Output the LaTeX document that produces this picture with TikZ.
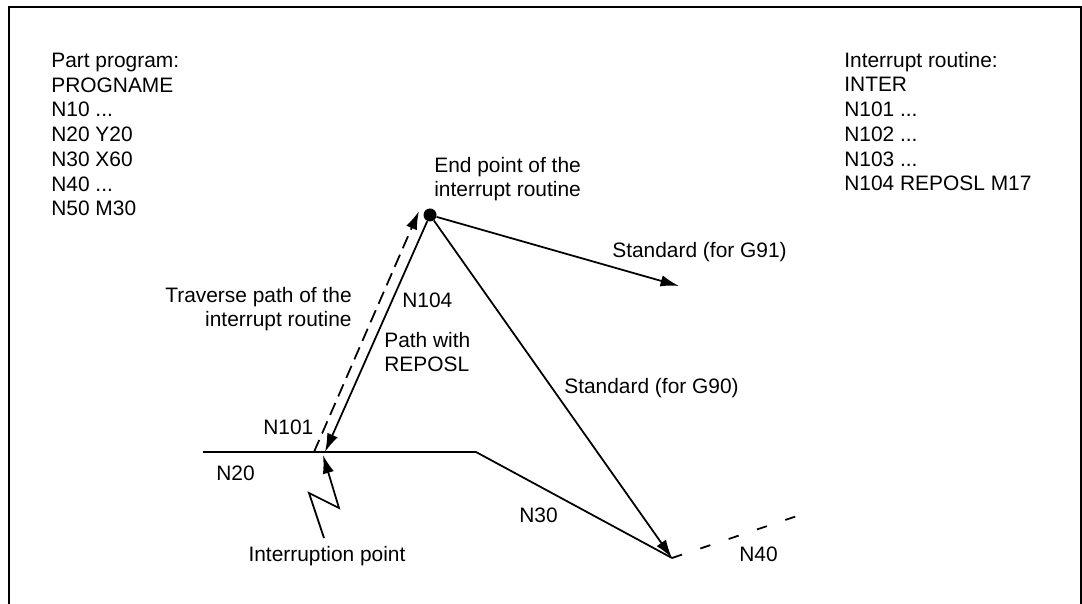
\documentclass[tikz,border=0pt]{standalone}
\usepackage{fontspec}
\setmainfont{Liberation Sans}
\usetikzlibrary{arrows.meta}

\begin{document}
\begin{tikzpicture}[x=0.02cm, y=-0.02cm,
  txt/.style={inner sep=0pt, font=\fontsize{11.9}{14.1}\selectfont},
  arr/.style={-{Latex[length=10.5pt,width=6.5pt]}, line width=1pt},
  seg/.style={line width=1pt},
  trav/.style={line width=1pt, dash pattern=on 7.5pt off 4pt},
  nxt/.style={line width=1pt, dash pattern=on 6pt off 11pt}
]
\useasboundingbox (0,0) rectangle (1082,604);
\draw[line width=1.1pt] (9,604) -- (9,7) -- (1081,7) -- (1081,604);

% program listings (base = last line)
\node[txt, anchor=base west, align=left] (prog) at (51,216)
  {Part program:\\PROGNAME\\N10 ...\\N20 Y20\\N30 X60\\N40 ...\\N50 M30};
\node[txt, anchor=base west, align=left] (inter) at (844,191)
  {Interrupt routine:\\INTER\\N101 ...\\N102 ...\\N103 ...\\N104 REPOSL M17};

% contour points
\node[circle, fill, inner sep=0pt, minimum size=0.26cm] (ep) at (430,215) {};
\coordinate (n20s) at (203,452);
\coordinate (n20e) at (476,452);
\coordinate (n30e) at (672,558);
\coordinate (ip)   at (325,452);
\coordinate (trs)  at (314,452);
\coordinate (tre)  at (419,211);
\coordinate (g91)  at (679,286);
\coordinate (n40e) at (803,514);
\coordinate (z0) at (324,538);
\coordinate (z1) at (309,493);
\coordinate (z2) at (339,508);
\coordinate (z3) at (323,455);

\draw[seg] (n20s) -- (n20e) -- (n30e);
\draw[nxt] (n30e) -- (n40e);
\draw[trav, -{Latex[length=10.5pt,width=6.5pt]}] (trs) -- (tre);
\draw[arr] (ep) -- (ip);
\draw[arr] (ep) -- (g91);
\draw[arr] (ep) -- (n30e);
\draw[arr] (z0) -- (z1) -- (z2) -- (z3);

% labels
\node[txt, anchor=base west, align=left] (eplbl) at (434,197)
  {End point of the\\interrupt routine};
\node[txt, anchor=base east, align=right] (travlbl) at (352,327)
  {Traverse path of the\\interrupt routine};
\node[txt, anchor=base west] (n104) at (402,308) {N104};
\node[txt, anchor=base west, align=left] (repos) at (384,372)
  {Path with\\REPOSL};
\node[txt, anchor=base west] (n101) at (263,435) {N101};
\node[txt, anchor=base west] (n20) at (216,480) {N20};
\node[txt, anchor=base] (iplbl) at (327,561) {Interruption point};
\node[txt, anchor=base west] (g91lbl) at (612,258) {Standard (for G91)};
\node[txt, anchor=base west] (g90lbl) at (564,394) {Standard (for G90)};
\node[txt, anchor=base west] (n30) at (519,522) {N30};
\node[txt, anchor=base west] (n40) at (739,561) {N40};
\end{tikzpicture}
\end{document}
